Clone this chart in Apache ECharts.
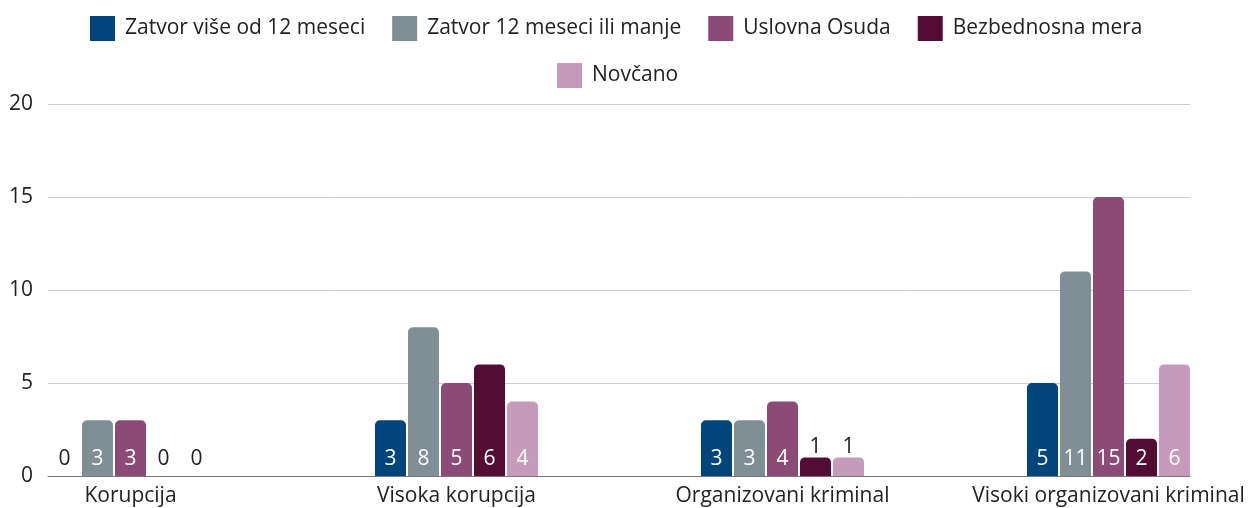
<!DOCTYPE html>
<html>
<head>
<meta charset="utf-8">
<script src="https://cdn.jsdelivr.net/npm/echarts@6/dist/echarts.min.js"></script>
<style>
  html, body { margin: 0; padding: 0; background: #fff; }
  #chart { width: 1249px; height: 508px; }
</style>
</head>
<body>
<div id="chart"></div>
<script>
const categories = ['Korupcija', 'Visoka korupcija', 'Organizovani kriminal', 'Visoki organizovani kriminal']
const seriesNames = ['Zatvor više od 12 meseci', 'Zatvor 12 meseci ili manje', 'Uslovna Osuda', 'Bezbednosna mera', 'Novčano']
const zatvorVise12 = [0, 3, 3, 5]
const zatvorDo12 = [3, 8, 3, 11]
const uslovnaOsuda = [3, 5, 4, 15]
const bezbednosnaMera = [0, 6, 1, 2]
const novcano = [0, 4, 1, 6]
const yTicks = [0, 5, 10, 15, 20]

const colors = ['#02447c', '#808e96', '#8b4b76', '#530d33', '#c69ab9']
const fontFamily = '"Open Sans", sans-serif'
const textColor = '#222'
const fontSize = 21

const chart = echarts.init(document.getElementById('chart'))

// zero values sit on the baseline, ones go above their short bar
const makeData = (values) => values.map(v => {
  if (v === 0) {
    return { value: v, label: { position: 'insideBottom', color: textColor } }
  }
  if (v === 1) {
    return { value: v, label: { position: 'top', color: textColor, distance: 0 } }
  }
  return v
})

const allValues = [zatvorVise12, zatvorDo12, uslovnaOsuda, bezbednosnaMera, novcano]

const series = allValues.map((vals, i) => ({
  name: seriesNames[i],
  type: 'bar',
  xAxisIndex: 1,
  yAxisIndex: 1,
  barWidth: 31,
  barGap: '6.5%',
  itemStyle: { color: colors[i], borderRadius: [5, 5, 0, 0] },
  label: {
    show: true,
    position: 'insideBottom',
    distance: 6,
    color: '#fff',
    fontSize: fontSize,
    fontFamily: fontFamily
  },
  data: makeData(vals)
}))

const legendText = { fontSize: fontSize, color: textColor, fontFamily: fontFamily, padding: [0, 0, 0, 5] }

const option = {
  animation: false,
  textStyle: { fontFamily: fontFamily },
  legend: [
    {
      data: seriesNames.slice(0, 4),
      top: 11,
      left: 85,
      icon: 'rect',
      itemWidth: 25,
      itemHeight: 25,
      itemGap: 27,
      textStyle: legendText
    },
    {
      data: seriesNames.slice(4),
      top: 58,
      left: 552,
      icon: 'rect',
      itemWidth: 25,
      itemHeight: 25,
      textStyle: legendText
    }
  ],
  grid: [
    { left: 48, right: 59, top: 104, bottom: 32, outerBoundsMode: 'none' },
    { left: -32.5, right: -22.5, top: 104, bottom: 32, outerBoundsMode: 'none' }
  ],
  xAxis: [
    {
      type: 'category',
      gridIndex: 0,
      data: categories,
      axisLine: { show: true, lineStyle: { color: '#777', width: 1 } },
      axisTick: { show: false },
      axisLabel: { show: false }
    },
    {
      type: 'category',
      gridIndex: 1,
      data: categories,
      axisLine: { show: false },
      axisTick: { show: false },
      axisLabel: { interval: 0, fontSize: fontSize, color: textColor, margin: 10, fontFamily: fontFamily }
    }
  ],
  yAxis: [
    {
      type: 'value',
      gridIndex: 0,
      min: yTicks[0],
      max: yTicks[yTicks.length - 1],
      interval: 5,
      axisLine: { show: false },
      axisTick: { show: false },
      splitLine: { lineStyle: { color: '#cccccc', width: 1 } },
      axisLabel: { fontSize: fontSize, color: textColor, margin: 15, fontFamily: fontFamily }
    },
    {
      type: 'value',
      gridIndex: 1,
      min: yTicks[0],
      max: yTicks[yTicks.length - 1],
      interval: 5,
      show: false
    }
  ],
  series: series
}

chart.setOption(option)
</script>
</body>
</html>
